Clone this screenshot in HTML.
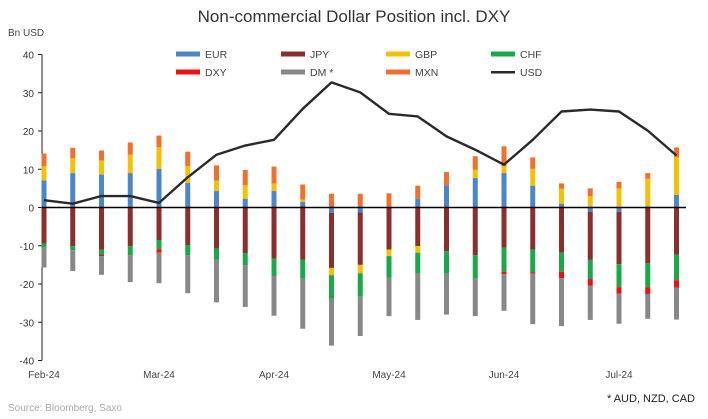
<!DOCTYPE html>
<html><head><meta charset="utf-8"><style>
body{margin:0;background:#fff;}
svg{display:block;font-family:"Liberation Sans",sans-serif;}
</style></head><body>
<svg id="c" width="708" height="419" viewBox="0 0 708 419" xmlns="http://www.w3.org/2000/svg">
<text x="354" y="22" text-anchor="middle" font-size="17" fill="#333">Non-commercial Dollar Position incl. DXY</text>
<text x="8" y="36" font-size="10" fill="#444">Bn USD</text>
<text x="8" y="411" font-size="10" fill="#aaa">Source: Bloomberg, Saxo</text>
<text x="695" y="402" text-anchor="end" font-size="11" fill="#222">* AUD, NZD, CAD</text>
<g id="grid"></g><g id="bars"></g><g id="line"></g><g id="legend"></g>
</svg>
<script>
const months=["Feb-24","Mar-24","Apr-24","May-24","Jun-24","Jul-24"];
const yTicks=[40,30,20,10,0,-10,-20,-30,-40];
const EUR=[7.1,9.0,8.6,9.0,10.1,6.4,4.3,2.3,4.3,1.5,-1.4,-1.3,0.3,2.3,5.8,7.7,9.0,5.7,1.0,-1.1,-1.1,0.3,3.3];
const JPY=[-9.4,-10.1,-11.0,-10.1,-8.5,-9.8,-10.7,-11.9,-13.4,-13.6,-14.4,-13.7,-11.0,-10.1,-11.4,-12.5,-10.5,-11.0,-11.8,-12.6,-13.7,-14.6,-12.3];
const GBP=[3.7,3.9,3.7,4.8,5.7,4.4,2.7,3.5,2.0,0.6,-1.9,-2.2,-1.7,-1.7,0,2.2,1.8,4.4,3.9,3.0,5.0,7.2,9.9];
const CHF=[-1.1,-1.1,-1.3,-2.4,-2.4,-2.7,-3.0,-3.2,-4.5,-5.0,-6.1,-6.1,-5.7,-5.5,-5.9,-6.1,-6.3,-5.9,-5.0,-5.0,-6.1,-6.3,-6.7];
const DXY=[0,0,-0.4,0,-0.9,0,0,0,0,0,0,0,0,0,0,0,-0.6,-0.4,-1.7,-1.7,-1.6,-1.7,-2.0];
const DM=[-5.2,-5.4,-4.9,-7.0,-8.0,-9.9,-11.1,-10.9,-10.4,-13.1,-12.3,-10.3,-10.0,-12.1,-10.7,-9.8,-9.6,-13.2,-12.5,-9.0,-7.9,-6.5,-8.3];
const MXN=[3.3,2.7,2.6,3.2,3.0,3.8,4.0,4.0,4.4,3.9,3.6,3.6,3.4,3.4,3.5,3.5,5.2,3.0,1.4,2.0,1.7,1.5,2.5];
const USD=[1.9,1.0,3.0,3.0,1.2,7.9,13.8,16.2,17.7,25.8,32.7,30.1,24.5,23.8,18.6,15.1,11.2,17.7,25.1,25.6,25.1,20.1,13.6];
const NS="http://www.w3.org/2000/svg";
const series=[["EUR",EUR,"#4a86c8"],["JPY",JPY,"#8b2e2e"],["GBP",GBP,"#f5c000"],["CHF",CHF,"#1aa84b"],["DXY",DXY,"#ee1111"],["DM *",DM,"#888888"],["MXN",MXN,"#f07030"]];
const x=i=>44+i*28.75, y=v=>207.5-v*3.825;
function mk(t,a,p){const e=document.createElementNS(NS,t);for(const k in a)e.setAttribute(k,a[k]);p.appendChild(e);return e;}
const G=document.getElementById("grid"),B=document.getElementById("bars"),L=document.getElementById("line"),LG=document.getElementById("legend");
let ax=mk("line",{x1:42,x2:42,y1:y(40),y2:y(-40),stroke:"#222","stroke-width":1},G);


yTicks.forEach(t=>{
 let tk=mk("line",{x1:38,x2:42,y1:y(t),y2:y(t),stroke:"#222"},G);
 
 
 let tx=mk("text",{x:34,y:y(t)+4,"text-anchor":"end","font-size":10,fill:"#333"},G);tx.textContent=t;
 
 
});
months.forEach((m,k)=>{
 let tx=mk("text",{x:x(k*4),y:378,"text-anchor":"middle","font-size":10,fill:"#444"},G);tx.textContent=m;
 
 
});
for(let i=0;i<USD.length;i++){
 let pos=0,neg=0;
 series.forEach(([n,d,c])=>{
  const v=d[i];if(!v)return;
  let y0,y1;
  if(v>0){y0=pos;pos+=v;y1=pos;}else{y0=neg;neg+=v;y1=neg;}
  let r=mk("rect",{x:x(i)-2.5,width:5,y:Math.min(y(y0),y(y1)),height:Math.abs(y(y0)-y(y1)),fill:c},B);
  
  
 });
}
let zl=mk("line",{x1:42,x2:686,y1:y(0),y2:y(0),stroke:"#000","stroke-width":1.6},L);


let pl=mk("polyline",{points:USD.map((v,i)=>x(i)+","+y(v)).join(" "),fill:"none",stroke:"#2a2a2a","stroke-width":2.4,"stroke-linejoin":"round"},L);


const leg=[["EUR","#4a86c8"],["JPY","#8b2e2e"],["GBP","#f5c000"],["CHF","#1aa84b"],["DXY","#ee1111"],["DM *","#888888"],["MXN","#f07030"],["USD","#2a2a2a"]];
leg.forEach(([n,c],k)=>{
 const lx=176+(k%4)*105, ly=54+Math.floor(k/4)*18;
 let s=mk("rect",{x:lx,y:ly-(n==="USD"?1:2.5),width:24,height:n==="USD"?2.5:5,fill:c},LG);
 
 
 let t=mk("text",{x:lx+29,y:ly+4,"font-size":10.5,fill:"#444"},LG);t.textContent=n;
 
 
});
</script>
</body></html>
